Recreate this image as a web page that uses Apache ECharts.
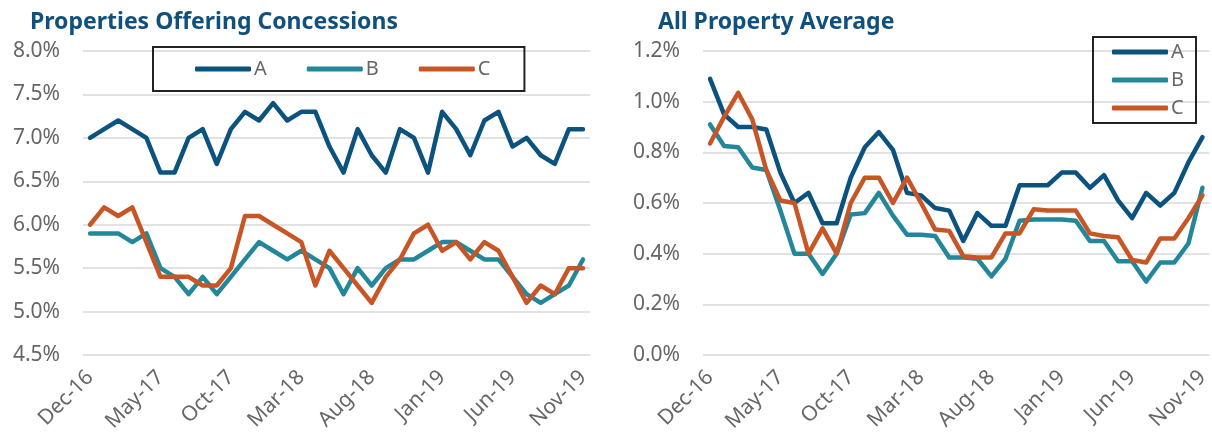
<!DOCTYPE html>
<html>
<head>
<meta charset="utf-8">
<script src="https://cdn.jsdelivr.net/npm/echarts@6/dist/echarts.min.js"></script>
<style>
  html, body { margin: 0; padding: 0; background: #fff; }
  #main { width: 1212px; height: 439px; }
</style>
</head>
<body>
<div id="main"></div>
<script>
// months Dec-16 .. Nov-19
var months = ["Dec-16","Jan-17","Feb-17","Mar-17","Apr-17","May-17","Jun-17","Jul-17","Aug-17","Sep-17","Oct-17","Nov-17",
  "Dec-17","Jan-18","Feb-18","Mar-18","Apr-18","May-18","Jun-18","Jul-18","Aug-18","Sep-18","Oct-18","Nov-18",
  "Dec-18","Jan-19","Feb-19","Mar-19","Apr-19","May-19","Jun-19","Jul-19","Aug-19","Sep-19","Oct-19","Nov-19"];

// Properties Offering Concessions (%)
var concA = [7.0,7.1,7.2,7.1,7.0,6.6,6.6,7.0,7.1,6.7,7.1,7.3,7.2,7.4,7.2,7.3,7.3,6.9,6.6,7.1,6.8,6.6,7.1,7.0,6.6,7.3,7.1,6.8,7.2,7.3,6.9,7.0,6.8,6.7,7.1,7.1];
var concB = [5.9,5.9,5.9,5.8,5.9,5.5,5.4,5.2,5.4,5.2,5.4,5.6,5.8,5.7,5.6,5.7,5.6,5.5,5.2,5.5,5.3,5.5,5.6,5.6,5.7,5.8,5.8,5.7,5.6,5.6,5.4,5.2,5.1,5.2,5.3,5.6];
var concC = [6.0,6.2,6.1,6.2,5.8,5.4,5.4,5.4,5.3,5.3,5.5,6.1,6.1,6.0,5.9,5.8,5.3,5.7,5.5,5.3,5.1,5.4,5.6,5.9,6.0,5.7,5.8,5.6,5.8,5.7,5.4,5.1,5.3,5.2,5.5,5.5];

// All Property Average (%)
var avgA = [1.09,0.95,0.90,0.90,0.89,0.72,0.60,0.64,0.52,0.52,0.70,0.82,0.88,0.81,0.64,0.63,0.58,0.57,0.45,0.56,0.51,0.51,0.67,0.67,0.67,0.72,0.72,0.66,0.71,0.61,0.54,0.64,0.59,0.64,0.76,0.86];
var avgB = [0.91,0.825,0.82,0.74,0.73,0.57,0.40,0.40,0.32,0.40,0.555,0.56,0.64,0.55,0.475,0.475,0.47,0.385,0.385,0.38,0.31,0.38,0.53,0.535,0.535,0.535,0.53,0.45,0.45,0.37,0.37,0.29,0.365,0.365,0.44,0.66];
var avgC = [0.835,0.94,1.035,0.93,0.73,0.61,0.60,0.40,0.50,0.40,0.60,0.70,0.70,0.60,0.70,0.60,0.495,0.49,0.39,0.385,0.385,0.48,0.48,0.575,0.57,0.57,0.57,0.48,0.47,0.465,0.375,0.365,0.46,0.46,0.54,0.63];

var names = ["A","B","C"];
var colors = ["#0b527f","#23879a","#c85526"];

var font = "Noto Sans";
var gridCol = "#d9d9d9";
var textCol = "#666666";

function xAx(idx) {
  return {
    type: 'category', gridIndex: idx, data: months, boundaryGap: true,
    axisLine: { show: false }, axisTick: { show: false },
    axisLabel: { interval: 4, rotate: 45, margin: 19, fontFamily: font, fontSize: 21, color: textCol }
  };
}
function yAx(idx, min, max, step) {
  return {
    type: 'value', gridIndex: idx, min: min, max: max, interval: step,
    axisLine: { show: false }, axisTick: { show: false },
    splitLine: { lineStyle: { color: gridCol, width: 1.5 } },
    axisLabel: { margin: 23, fontFamily: font, fontSize: 21, color: textCol,
      formatter: function (v) { return v.toFixed(1) + '%'; } }
  };
}
function line(name, idx, data, color) {
  return {
    name: name, type: 'line', xAxisIndex: idx, yAxisIndex: idx, data: data,
    symbol: 'none', smooth: false, animation: false,
    lineStyle: { color: color, width: 4.5, cap: 'round', join: 'round' },
    itemStyle: { color: color }
  };
}

var chart = echarts.init(document.getElementById('main'));
var option = {
  animation: false,
  color: colors,
  title: [
    { text: 'Properties Offering Concessions', left: 25, top: 6,
      textStyle: { fontFamily: font, fontSize: 23, fontWeight: 'bold', color: '#10507d' } },
    { text: 'All Property Average', left: 653, top: 6,
      textStyle: { fontFamily: font, fontSize: 23, fontWeight: 'bold', color: '#10507d' } }
  ],
  legend: [
    { data: names, orient: 'horizontal', left: 153, top: 47,
      itemWidth: 56, itemHeight: 5, icon: 'roundRect', itemGap: 40,
      borderColor: '#222', borderWidth: 2, padding: [12, 34, 12, 42],
      textStyle: { fontFamily: font, fontSize: 20, color: textCol, padding: [0, 0, 0, -2] } },
    { data: names, orient: 'vertical', left: 1093, top: 37,
      itemWidth: 56, itemHeight: 5, icon: 'roundRect', itemGap: 8,
      borderColor: '#222', borderWidth: 2, padding: [5, 12, 5, 19],
      textStyle: { fontFamily: font, fontSize: 20, color: textCol, padding: [0, 0, 0, -2] } }
  ],
  grid: [
    { left: 83, right: 622, top: 51, bottom: 84 },
    { left: 703, right: 2, top: 51, bottom: 84 }
  ],
  xAxis: [xAx(0), xAx(1)],
  yAxis: [yAx(0, 4.5, 8.0, 0.5), yAx(1, 0, 1.2, 0.2)],
  series: [
    line('A', 0, concA, colors[0]),
    line('B', 0, concB, colors[1]),
    line('C', 0, concC, colors[2]),
    line('A', 1, avgA, colors[0]),
    line('B', 1, avgB, colors[1]),
    line('C', 1, avgC, colors[2])
  ]
};
chart.setOption(option);
</script>
</body>
</html>
